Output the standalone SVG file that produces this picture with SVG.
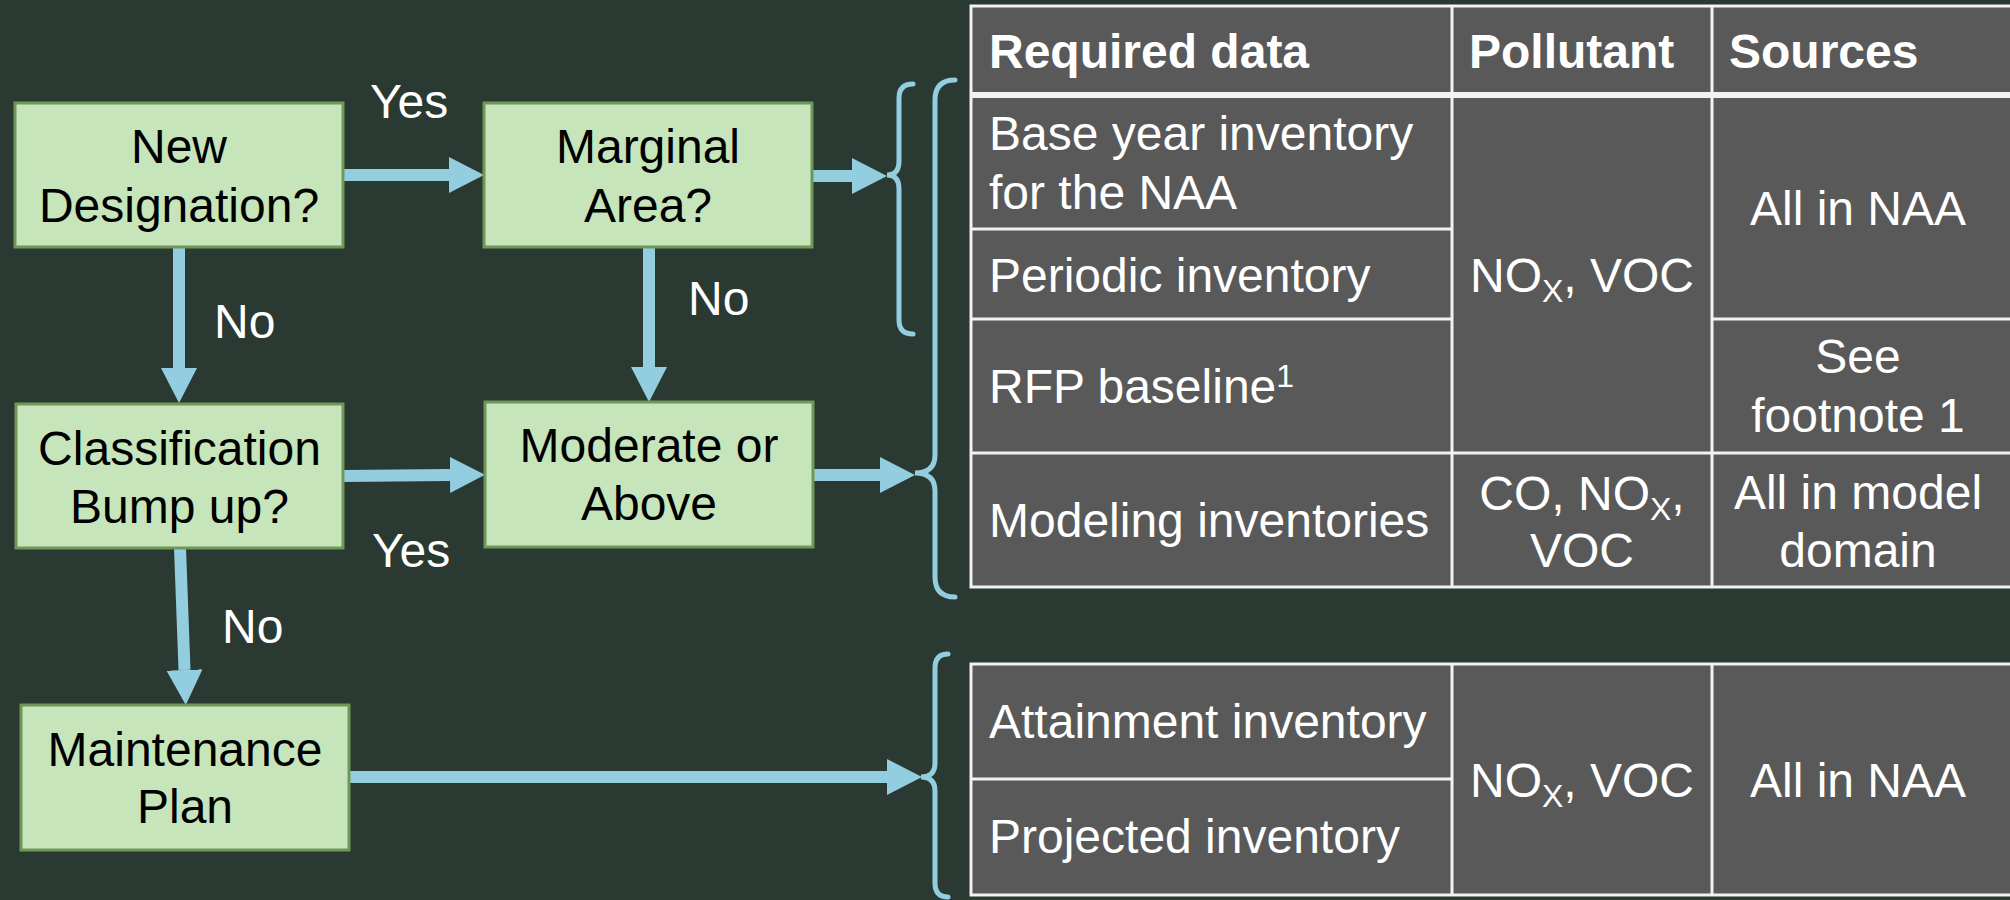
<svg xmlns="http://www.w3.org/2000/svg" width="2010" height="900" viewBox="0 0 2010 900">
<defs>
<style>
.bg{fill:#2a3931}
.box rect{fill:#c6e5ba;stroke:#6f9858;stroke-width:3}
.box text{font-family:"Liberation Sans",Arial,sans-serif;font-size:48px;fill:#000;text-anchor:middle}
.lbl{font-family:"Liberation Sans",Arial,sans-serif;font-size:48px;fill:#fff}
.conn{stroke:#92cde0;stroke-width:12;fill:none}
.brace{stroke:#92cde0;stroke-width:5;fill:none;stroke-linecap:round}
.cell{fill:#595959}
.tl{stroke:#f2f2f2;stroke-width:3;fill:none}
.tt{font-family:"Liberation Sans",Arial,sans-serif;font-size:48px;fill:#fff}
.th{font-weight:bold}
.mid{text-anchor:middle}
</style>
<marker id="ah" markerUnits="userSpaceOnUse" markerWidth="36" markerHeight="36" refX="0" refY="18" orient="auto">
<path d="M0,0 L35,18 L0,36 Z" fill="#92cde0"/>
</marker>
</defs>
<rect class="bg" x="0" y="0" width="2010" height="900"/>

<g id="connectors">
<path class="conn" d="M343,175 L449,175" marker-end="url(#ah)"/>
<path class="conn" d="M812,176 L852,176" marker-end="url(#ah)"/>
<path class="conn" d="M179,247 L179,368" marker-end="url(#ah)"/>
<path class="conn" d="M649,247 L649,367" marker-end="url(#ah)"/>
<path class="conn" d="M343,476 L450,475" marker-end="url(#ah)"/>
<path class="conn" d="M813,475 L880,475" marker-end="url(#ah)"/>
<path class="conn" d="M180,548 L184.5,670" marker-end="url(#ah)"/>
<path class="conn" d="M349,777 L887,777" marker-end="url(#ah)"/>
<text class="lbl" x="370" y="118">Yes</text>
<text class="lbl" x="214" y="338">No</text>
<text class="lbl" x="688" y="315">No</text>
<text class="lbl" x="372" y="567">Yes</text>
<text class="lbl" x="222" y="643">No</text>
</g>

<g id="braces">
<path class="brace" d="M913,84 Q899,84 899,98 L899,161 Q899,175 887,175 Q899,175 899,189 L899,320 Q899,334 913,334"/>
<path class="brace" d="M955,80 Q935,80 935,100 L935,455 Q935,473 915,473 Q935,473 935,491 L935,577 Q935,597 955,597"/>
<path class="brace" d="M948,654 Q935,654 935,668 L935,763 Q935,777 921,777 Q935,777 935,791 L935,883 Q935,897 948,897"/>
</g>

<g id="node-new-designation" class="box">
<rect x="15" y="103" width="328" height="144"/>
<text x="179" y="163">New</text>
<text x="179" y="222">Designation?</text>
</g>
<g id="node-marginal-area" class="box">
<rect x="484" y="103" width="328" height="144"/>
<text x="648" y="163">Marginal</text>
<text x="648" y="222">Area?</text>
</g>
<g id="node-classification" class="box">
<rect x="16" y="404" width="327" height="144"/>
<text x="179.5" y="465">Classification</text>
<text x="179.5" y="523">Bump up?</text>
</g>
<g id="node-moderate" class="box">
<rect x="485" y="402" width="328" height="145"/>
<text x="649" y="462">Moderate or</text>
<text x="649" y="520">Above</text>
</g>
<g id="node-maintenance" class="box">
<rect x="21" y="705" width="328" height="145"/>
<text x="185" y="766">Maintenance</text>
<text x="185" y="823">Plan</text>
</g>

<g id="table-nonattainment">
<rect class="cell" x="971" y="6" width="1045" height="581"/>
<rect class="tl" x="971" y="6" width="1045" height="581"/>
<rect x="971" y="92" width="1045" height="6" fill="#f2f2f2"/>
<path class="tl" d="M1452,6 V587 M1712,6 V587 M971,229 H1452 M971,319 H1452 M1712,319 H2016 M971,453 H2016"/>
<text class="tt th" x="989" y="68">Required data</text>
<text class="tt th" x="1469" y="68">Pollutant</text>
<text class="tt th" x="1729" y="68">Sources</text>
<text class="tt" x="989" y="150">Base year inventory</text>
<text class="tt" x="989" y="209">for the NAA</text>
<text class="tt" x="989" y="292">Periodic inventory</text>
<text class="tt" x="989" y="403">RFP baseline<tspan font-size="32" dy="-16">1</tspan></text>
<text class="tt" x="989" y="537">Modeling inventories</text>
<text class="tt mid" x="1582" y="292">NO<tspan font-size="32" dy="10">X</tspan><tspan dy="-10">, VOC</tspan></text>
<text class="tt mid" x="1582" y="510">CO, NO<tspan font-size="32" dy="10">X</tspan><tspan dy="-10">,</tspan></text>
<text class="tt mid" x="1582" y="567">VOC</text>
<text class="tt mid" x="1858" y="225">All in NAA</text>
<text class="tt mid" x="1858" y="373">See</text>
<text class="tt mid" x="1858" y="432">footnote 1</text>
<text class="tt mid" x="1858" y="509">All in model</text>
<text class="tt mid" x="1858" y="567">domain</text>
</g>

<g id="table-maintenance">
<rect class="cell" x="971" y="664" width="1045" height="231"/>
<rect class="tl" x="971" y="664" width="1045" height="231"/>
<path class="tl" d="M1452,664 V895 M1712,664 V895 M971,779 H1452"/>
<text class="tt" x="989" y="738">Attainment inventory</text>
<text class="tt" x="989" y="853">Projected inventory</text>
<text class="tt mid" x="1582" y="797">NO<tspan font-size="32" dy="10">X</tspan><tspan dy="-10">, VOC</tspan></text>
<text class="tt mid" x="1858" y="797">All in NAA</text>
</g>
</svg>
